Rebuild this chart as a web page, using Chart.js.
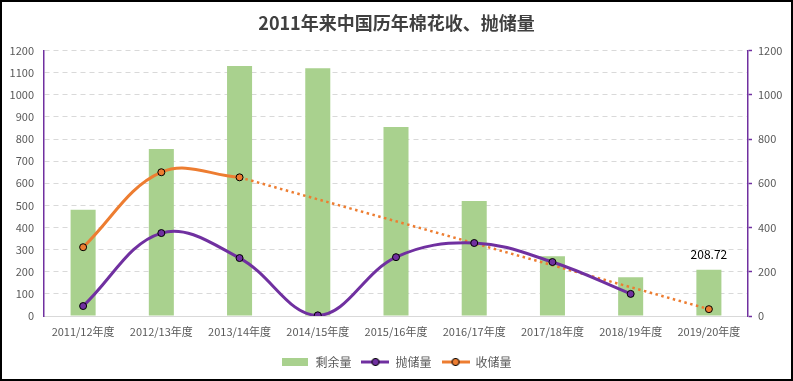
<!DOCTYPE html>
<html><head><meta charset="utf-8">
<script src="https://cdn.jsdelivr.net/npm/chart.js@4/dist/chart.umd.min.js"></script>
<style>
html,body{margin:0;padding:0;background:#fff;}
#wrap{position:relative;width:793px;height:381px;}
#frame{position:absolute;left:0;top:0;width:793px;height:381px;box-sizing:border-box;border:2px solid #000;pointer-events:none;}
canvas{display:block;}
</style>
</head><body>
<div id="wrap"><canvas id="c" width="793" height="381"></canvas><div id="frame"></div></div>
<script>
const categories = ['2011/12年度','2012/13年度','2013/14年度','2014/15年度','2015/16年度','2016/17年度','2017/18年度','2018/19年度','2019/20年度'];
const surplus = [480, 755, 1130, 1120, 855, 520, 270, 175, 208.72];
const release = [45, 375, 262, 3, 266, 330, 244, 100, null];
const purchase = [311, 650, 627, null, null, null, null, null, null];
const purchaseTrend = [null, null, 627, null, null, null, null, null, 31];
const leftTicks = [0,100,200,300,400,500,600,700,800,900,1000,1100,1200];
const rightTicks = [0,200,400,600,800,1000,1200];
const seriesNames = ['剩余量','抛储量','收储量'];

const GREEN='#a9d18e', PURPLE='#7030a0', ORANGE='#ed7d31', TXT='#595959';
const FONT='"Noto Sans CJK SC", "Noto Sans", sans-serif';

function makeBox(){const c=document.createElement('canvas');c.width=26;c.height=8;const x=c.getContext('2d');x.fillStyle=GREEN;x.fillRect(0,0,26,8);return c;}
function makeLine(col){const c=document.createElement('canvas');c.width=28;c.height=10;const x=c.getContext('2d');
 x.strokeStyle=col;x.lineWidth=3;x.beginPath();x.moveTo(0,5);x.lineTo(28,5);x.stroke();
 x.beginPath();x.arc(14,5,3.6,0,Math.PI*2);x.fillStyle=col;x.fill();x.lineWidth=1;x.strokeStyle='#000';x.stroke();return c;}
const imgs=[makeBox(),makeLine(PURPLE),makeLine(ORANGE)];

const labelPlugin={id:'lbl',afterDatasetsDraw(chart){
 const ctx=chart.ctx;const el=chart.getDatasetMeta(0).data[8];
 ctx.save();ctx.font='12px '+FONT;ctx.fillStyle='#000';ctx.textAlign='center';ctx.textBaseline='middle';
 ctx.fillText(surplus[8].toFixed(2),el.x,el.y-15);ctx.restore();}};

new Chart(document.getElementById('c'),{
 data:{labels:categories,datasets:[
  {type:'bar',label:seriesNames[0],data:surplus,backgroundColor:GREEN,yAxisID:'y',order:5,barPercentage:0.32,categoryPercentage:1},
  {type:'line',label:seriesNames[1],data:release,borderColor:PURPLE,borderWidth:3,tension:0.38,pointRadius:3.5,pointBackgroundColor:PURPLE,pointBorderColor:'#000',pointBorderWidth:1,yAxisID:'y',order:1},
  {type:'line',label:seriesNames[2],data:purchase,borderColor:ORANGE,borderWidth:3,tension:0.38,pointRadius:3.5,pointBackgroundColor:ORANGE,pointBorderColor:'#000',pointBorderWidth:1,yAxisID:'y',order:2},
  {type:'line',label:'trend',data:purchaseTrend,borderColor:ORANGE,borderWidth:2.5,borderDash:[2.5,3.5],tension:0,spanGaps:true,pointRadius:[0,0,0,0,0,0,0,0,3.5],pointBackgroundColor:ORANGE,pointBorderColor:'#000',pointBorderWidth:1,yAxisID:'y',order:3}
 ]},
 options:{responsive:false,animation:false,
  layout:{padding:{left:0,right:0,top:4,bottom:3}},
  plugins:{
   title:{display:true,text:'2011年来中国历年棉花收、抛储量',color:'#404040',font:{family:FONT,size:18,weight:'bold'},padding:{top:8,bottom:17}},
   tooltip:{enabled:false},
   legend:{position:'bottom',labels:{usePointStyle:true,pointStyleWidth:28,color:TXT,font:{family:FONT,size:12},padding:10,
     generateLabels:()=>seriesNames.map((t,i)=>({text:t,pointStyle:imgs[i],datasetIndex:i,fontColor:TXT,fillStyle:'transparent',strokeStyle:'transparent',lineWidth:0,hidden:false}))}}
  },
  scales:{
   x:{grid:{display:false,drawTicks:false},border:{color:'#d9d9d9',width:1},ticks:{color:TXT,font:{family:FONT,size:11},padding:9,maxRotation:0,autoSkip:false},
      afterFit(s){s.height=30;}},
   y:{position:'left',min:0,max:1200,afterBuildTicks(s){s.ticks=leftTicks.map(v=>({value:v}));},
      grid:{color:'#d9d9d9',drawTicks:false},border:{color:PURPLE,width:1.5,dash:[5,4]},
      ticks:{color:TXT,font:{family:FONT,size:11},padding:10,callback:v=>String(v)},afterFit(s){s.width=44;}},
   y2:{position:'right',min:0,max:1200,afterBuildTicks(s){s.ticks=rightTicks.map(v=>({value:v}));},
      grid:{drawOnChartArea:false,drawTicks:true,tickLength:4,color:PURPLE,tickWidth:1.5},border:{color:PURPLE,width:1.5},
      ticks:{color:TXT,font:{family:FONT,size:11},padding:6,callback:v=>String(v)},afterFit(s){s.width=45;}}
  }
 },
 plugins:[labelPlugin]
});
</script>
</body></html>
